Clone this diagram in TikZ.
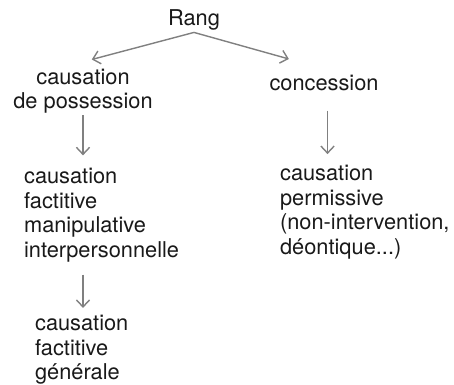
\documentclass[tikz,border=0pt]{standalone}
\usepackage{fontspec}
\setmainfont{TeX Gyre Heros}
\usetikzlibrary{arrows.meta}
\begin{document}
\begin{tikzpicture}[
  x=0.02cm, y=-0.02cm,
  label/.style={font=\fontsize{12.4}{14}\selectfont, inner sep=1pt, text=black!90},
  block/.style={label, align=left, anchor=west},
  arrow/.style={-{Straight Barb[length=4pt,width=7.5pt]}, black!50, line width=0.8pt}
]
  \useasboundingbox (0,0) rectangle (454,385);

  % Racine
  \node[label] (rang) at (194,20) {Rang};

  % Premier niveau
  \node[label, align=center] (poss) at (83,91) {causation\\de possession};
  \node[label] (conc) at (324,83) {concession};

  % Deuxième niveau
  \node[block] (manip) at (22,215) {causation\\factitive\\manipulative\\interpersonnelle};
  \node[block] (perm) at (278,212) {causation\\permissive\\(non-intervention,\\déontique...)};

  % Troisième niveau
  \node[block] (gen) at (33,350) {causation\\factitive\\générale};

  % Flèches
  \draw[arrow] (rang.south) -- ([xshift=5pt,yshift=4pt]poss.north);
  \draw[arrow] (rang.south) -- ([xshift=-20pt,yshift=8pt]conc.north);
  \draw[arrow, shorten >=6pt] (poss.south) -- (poss.south |- manip.north);
  \draw[arrow, shorten <=10pt, shorten >=5pt] ([xshift=2pt]conc.south) -- ([xshift=2pt]conc.south |- perm.north);
  \draw[arrow, shorten <=6pt, shorten >=3pt] (manip.south -| poss.south) -- (poss.south |- gen.north);
\end{tikzpicture}
\end{document}
